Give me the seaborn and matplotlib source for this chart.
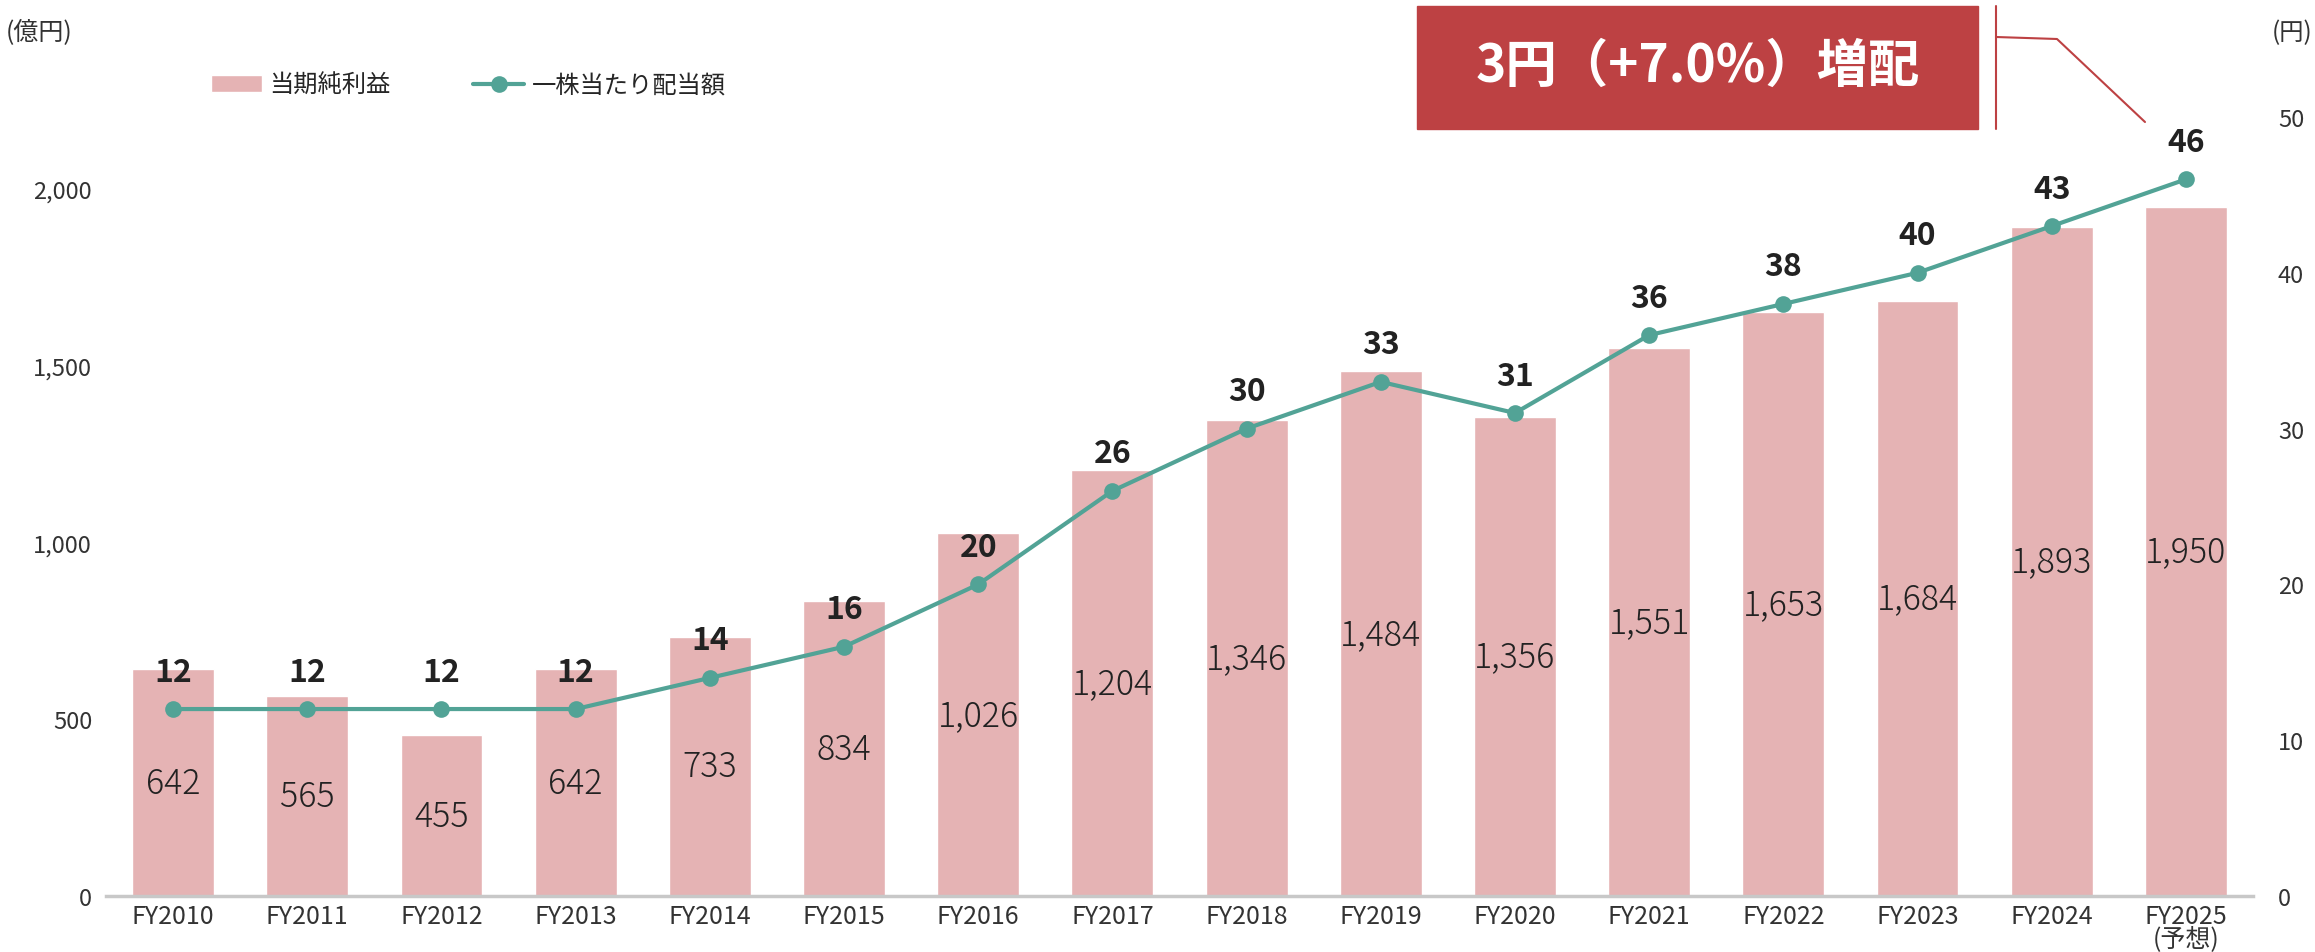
import numpy as np
import pandas as pd
import matplotlib
matplotlib.use("Agg")
import matplotlib.pyplot as plt
import seaborn as sns

# data
years = ["FY2010", "FY2011", "FY2012", "FY2013", "FY2014", "FY2015", "FY2016", "FY2017",
         "FY2018", "FY2019", "FY2020", "FY2021", "FY2022", "FY2023", "FY2024", "FY2025\n(予想)"]
net_income = [642, 565, 455, 642, 733, 834, 1026, 1204, 1346, 1484, 1356, 1551, 1653, 1684, 1893, 1950]
dividend = [12, 12, 12, 12, 14, 16, 20, 26, 30, 33, 31, 36, 38, 40, 43, 46]
left_ticks = [0, 500, 1000, 1500, 2000]
right_ticks = [0, 10, 20, 30, 40, 50]

bar_color = "#E5B3B4"
line_color = "#52A396"
red = "#BD4143"
txt = "#222222"

sns.set_theme(style="white")
plt.rcParams["font.family"] = ["Noto Sans CJK JP", "DejaVu Sans"]

df = pd.DataFrame({"year": years, "income": net_income, "div": dividend, "pos": np.arange(len(years))})

fig = plt.figure(figsize=(23.15, 9.53), dpi=100)
ax = fig.add_axes([106 / 2315, 1 - 897 / 953, (2253 - 106) / 2315, (897 - 60) / 953])

sns.barplot(data=df, x="year", y="income", color=bar_color, width=0.61, saturation=1,
            ax=ax, label="当期純利益")
ax.set_xlim(-0.5, len(years) - 0.5)
ax.set_ylim(0, (897 - 60) / 0.3535)
ax.set_yticks(left_ticks)
ax.set_yticklabels([f"{v:,}" for v in left_ticks], fontsize=17, color="#333333")
ax.set_xticks(range(len(years)))
ax.set_xticklabels(years, fontsize=18, color="#333333", linespacing=0.8)
ax.tick_params(axis="x", length=0, pad=5)
ax.tick_params(axis="y", length=0, pad=10)
ax.set_xlabel("")
ax.set_ylabel("")
for s in ["top", "left", "right"]:
    ax.spines[s].set_visible(False)
ax.spines["bottom"].set_color("#C8C8C8")
ax.spines["bottom"].set_linewidth(2.5)

for i, v in enumerate(net_income):
    ax.text(i, v / 2, f"{v:,}", ha="center", va="center", fontsize=24.5, color=txt,
            fontweight="light")

ax2 = ax.twinx()
sns.lineplot(data=df, x="pos", y="div", color=line_color, linewidth=3, marker="o",
             markersize=12, markeredgewidth=0, ax=ax2, label="一株当たり配当額")
ax2.set_ylim(0, (897 - 60) / 15.58)
ax2.set_yticks(right_ticks)
ax2.set_yticklabels([str(v) for v in right_ticks], fontsize=17, color="#333333")
ax2.tick_params(axis="y", length=0, pad=18)
ax2.set_xlabel("")
ax2.set_ylabel("")
for s in ax2.spines.values():
    s.set_visible(False)

for i, v in enumerate(dividend):
    ax2.annotate(str(v), (i, v), xytext=(0, 27), textcoords="offset points", ha="center",
                 va="center", fontsize=23, fontweight="bold", color=txt)

# legend
h1, l1 = ax.get_legend_handles_labels()
h2, l2 = ax2.get_legend_handles_labels()
if ax.get_legend():
    ax.get_legend().remove()
ax2.get_legend().remove()
fig.legend(h1 + h2, l1 + l2, loc="center left", bbox_to_anchor=(189 / 2315, 1 - 86 / 953),
           ncol=2, frameon=False, fontsize=17.5, handlelength=2.1, handleheight=0.65,
           columnspacing=3.4, handletextpad=0.3)

# unit labels
fig.text(6 / 2315, 1 - 33 / 953, "(億円)", fontsize=18, color="#333333", va="center", ha="left")
fig.text(2312 / 2315, 1 - 33 / 953, "(円)", fontsize=17.5, color="#333333", va="center", ha="right")

# callout box
fig.patches.append(plt.Rectangle((1417 / 2315, 1 - 130 / 953), (1978 - 1417) / 2315, 123 / 953,
                                 transform=fig.transFigure, color=red, zorder=5))
fig.text(1698 / 2315, 1 - 66 / 953, "3円（+7.0%）増配", fontsize=37, fontweight="bold",
         color="white", ha="center", va="center", zorder=6)
fig.add_artist(plt.Line2D([1996 / 2315, 1996 / 2315], [1 - 7 / 953, 1 - 130 / 953],
                          transform=fig.transFigure, color=red, linewidth=1.5))
fig.add_artist(plt.Line2D([1996 / 2315, 2057 / 2315, 2145 / 2315],
                          [1 - 38 / 953, 1 - 40 / 953, 1 - 123 / 953],
                          transform=fig.transFigure, color=red, linewidth=1.5))

fig.savefig("out.png", dpi=100)
